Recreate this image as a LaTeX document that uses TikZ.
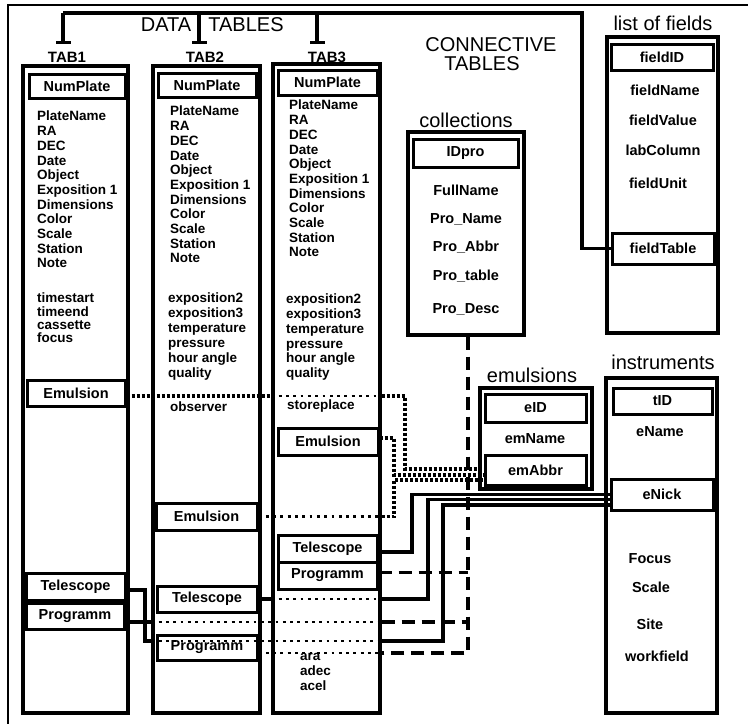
\documentclass[tikz,border=0pt]{standalone}
\usepackage{fontspec}
\setmainfont{Liberation Sans}
\usetikzlibrary{arrows.meta}

\tikzstyle{frm}=[line width=2.5pt]
\tikzstyle{tbl}=[draw, line width=3.2pt, inner sep=0pt]
\tikzstyle{keyb}=[draw, line width=3pt, inner sep=0pt, minimum width=99pt, minimum height=26pt, font=\bfseries\fontsize{14.5}{14.5}\selectfont]
\tikzstyle{tlab}=[inner sep=0pt, font=\bfseries\fontsize{15}{15}\selectfont]
\tikzstyle{hdr}=[inner sep=0pt, font=\fontsize{20}{20}\selectfont]
\tikzstyle{fld}=[inner sep=0pt, anchor=north west, align=left, font=\bfseries\fontsize{13.5}{14.7}\selectfont]
\tikzstyle{cfld}=[inner sep=0pt, font=\bfseries\fontsize{14.5}{14.5}\selectfont]
\tikzstyle{link}=[line width=3.2pt]
\tikzstyle{proline}=[line width=3.2pt, dash pattern=on 13pt off 7pt]
\tikzstyle{emline}=[line width=3.5pt, dash pattern=on 3pt off 2pt]
\tikzstyle{thru}=[line width=2.8pt, dash pattern=on 2.8pt off 4.5pt]

\begin{document}
\begin{tikzpicture}[x=1pt,y=-1pt]
        \useasboundingbox (0,0) rectangle (748,724);
        \coordinate (fTL) at (8,5);
        \draw[frm] (748,5) -- (fTL) -- (8,724);

        % data tables
        \draw (166,25) node[hdr](dat1){DATA};
        \draw (246,25) node[hdr](dat2){TABLES};
        \draw (67,57) node[tlab](lab1){TAB1};
        \draw (205,57) node[tlab](lab2){TAB2};
        \draw (327,57) node[tlab](lab3){TAB3};

        \draw (75.5,389.5) node[tbl, minimum width=105pt, minimum height=647pt](tab1){};
        \draw (206.5,389.5) node[tbl, minimum width=107pt, minimum height=647pt](tab2){};
        \draw (326.5,388.5) node[tbl, minimum width=107pt, minimum height=649pt](tab3){};

        \draw (77,86) node[keyb, minimum width=96pt, minimum height=24pt](num1){NumPlate};
        \draw (207,85) node[keyb, minimum width=98pt, minimum height=24pt](num2){NumPlate};
        \draw (327.5,82.5) node[keyb, minimum height=25pt](num3){NumPlate};

        \draw (37,111) node[fld](f1a){PlateName\\RA\\DEC\\Date\\Object\\Exposition 1\\Dimensions\\Color\\Scale\\Station\\Note};
        \draw (37,293) node[fld, font=\bfseries\fontsize{13.5}{13.3}\selectfont](f1b){timestart\\timeend\\cassette\\focus};
        \draw (170,106) node[fld](f2a){PlateName\\RA\\DEC\\Date\\Object\\Exposition 1\\Dimensions\\Color\\Scale\\Station\\Note};
        \draw (168,293) node[fld, font=\bfseries\fontsize{13.5}{15}\selectfont](f2b){exposition2\\exposition3\\temperature\\pressure\\hour angle\\quality};
        \draw (170,402) node[fld](f2c){observer};
        \draw (289,100) node[fld](f3a){PlateName\\RA\\DEC\\Date\\Object\\Exposition 1\\Dimensions\\Color\\Scale\\Station\\Note};
        \draw (286,294) node[fld](f3b){exposition2\\exposition3\\temperature\\pressure\\hour angle\\quality};
        \draw (287,400) node[fld](f3c){storeplace};
        \draw (300,653) node[fld, font=\bfseries\fontsize{13.5}{15}\selectfont](f3d){ara\\adec\\acel};

        \draw (76,393) node[keyb, minimum width=98pt](emu1){Emulsion};
        \draw (206.5,516.5) node[keyb, minimum width=101pt, minimum height=27pt](emu2){Emulsion};
        \draw (328,441.5) node[keyb, minimum width=100pt, minimum height=27pt](emu3){Emulsion};
        \draw (75.5,586.5) node[keyb, minimum height=27pt](tel1){Telescope};
        \draw (75,616) node[keyb, minimum width=98pt](prog1){Programm};
        \draw (207,599) node[keyb, minimum width=100pt](tel2){Telescope};
        \draw (207,647.5) node[keyb, minimum width=100pt, minimum height=25pt](prog2){Programm};
        \draw (327.5,548.5) node[keyb, minimum height=27pt](tel3){Telescope};
        \draw (327.5,575.5) node[keyb, minimum height=27pt](prog3){Programm};

        % connective tables
        \draw (491,45) node[hdr](conn1){CONNECTIVE};
        \draw (482,64) node[hdr](conn2){TABLES};

        \draw (466,120) node[hdr](colllab){collections};
        \draw (466,233.5) node[tbl, minimum width=116pt, minimum height=203pt](coll){};
        \draw (465.5,153) node[keyb, minimum width=105pt, minimum height=28pt](idpro){IDpro};
        \draw (466,190) node[cfld](fullname){FullName};
        \draw (466,219) node[cfld](proname){Pro\_Name};
        \draw (466,247) node[cfld](proabbr){Pro\_Abbr};
        \draw (466,276) node[cfld](protable){Pro\_table};
        \draw (466,309) node[cfld](prodesc){Pro\_Desc};

        \draw (663,23) node[hdr](lflab){list of fields};
        \draw (662.5,185) node[tbl, minimum width=111pt, minimum height=296pt](lf){};
        \draw (662,57) node[keyb, minimum width=102pt, minimum height=26pt](fid){fieldID};
        \draw (665,90) node[cfld](fname){fieldName};
        \draw (663,120) node[cfld](fvalue){fieldValue};
        \draw (663,150) node[cfld](fcol){labColumn};
        \draw (658,183) node[cfld](funit){fieldUnit};
        \draw (663,248.5) node[keyb, minimum width=102pt, minimum height=31pt](ftab){fieldTable};

        \draw (532,375) node[hdr](emlab){emulsions};
        \draw (536,438.5) node[tbl, minimum width=112pt, minimum height=101pt](emu){};
        \draw (535.5,408) node[keyb, minimum width=101pt, minimum height=28pt](eid){eID};
        \draw (535,439) node[cfld](emname){emName};
        \draw (535.5,470) node[keyb, minimum width=101pt, minimum height=30pt](emabbr){emAbbr};

        \draw (663,362) node[hdr](inlab){instruments};
        \draw (661.5,545.5) node[tbl, minimum width=111pt, minimum height=335pt](inst){};
        \draw (662.5,401) node[keyb, minimum width=99pt, minimum height=26pt](tid){tID};
        \draw (660,432) node[cfld](ename){eName};
        \draw (662,494.5) node[keyb, minimum width=102pt, minimum height=31pt](enick){eNick};
        \draw (650,559) node[cfld](ifocus){Focus};
        \draw (651,587) node[cfld](iscale){Scale};
        \draw (650,624) node[cfld](isite){Site};
        \draw (657,656) node[cfld](iwork){workfield};

        % bracket over the data tables
        \coordinate (brL) at (63,13);
        \coordinate (brR) at (582,13);
        \coordinate (d1) at (63,44);
        \coordinate (d2) at (199,44);
        \coordinate (d3) at (317,44);
        \draw[link] (ftab.west) -| (brR) -- (brL);
        \draw[link,-{Bar[width=15pt]}] (brL) -- (d1);
        \draw[link,-{Bar[width=15pt]}] (d2 |- brL) -- (d2);
        \draw[link,-{Bar[width=15pt]}] (d3 |- brL) -- (d3);

        % collections
        \coordinate (bus) at (468,653);
        \draw[proline] ([xshift=2pt]coll.south) -- (bus) -- (bus -| tab3.east);
        \draw[thru] ([yshift=-5.5pt]prog2.east) -- (bus -| tab3.east);
        \draw[proline] ([yshift=3pt]prog3.east) -- ([yshift=3pt]prog3.east -| bus);
        \draw[link] ([yshift=-6pt]prog1.east) -- ([yshift=-6pt]prog1.east -| tab2.west);
        \draw[thru] ([yshift=-6pt]prog1.east -| tab2.west) -- ([yshift=-6pt]prog1.east -| tab3.east);
        \draw[proline] ([yshift=-6pt]prog1.east -| tab3.east) -- ([yshift=-6pt]prog1.east -| bus);

        % instruments
        \coordinate (c1) at (412,494.5);
        \coordinate (c2) at (428,499.5);
        \coordinate (c3) at (443,505);
        \coordinate (r1) at (145,641);
        \draw[link] ([yshift=-3.5pt]tel3.east) -| (c1) -- (enick.west);
        \draw[link] (tel2.east) -- (tel2.east -| tab3.west);
        \draw[thru] (tel2.east -| tab3.west) -- (tel2.east -| tab3.east);
        \draw[link] (tel2.east -| tab3.east) -| (c2) -- (c2 -| enick.west);
        \draw[link] ([yshift=-3.5pt]tel1.east) -| (r1) -- (r1 -| tab2.west);
        \draw[thru] (r1 -| tab2.west) -- (r1 -| tab3.east);
        \draw[link] (r1 -| tab3.east) -| (c3) -- (c3 -| enick.west);

        % emulsions
        \coordinate (m1) at (405,469);
        \coordinate (m2) at (394,480);
        \coordinate (m3) at (394,475);
        \draw[emline] ([yshift=-3pt]emu1.east) -- ([yshift=-3pt]emu1.east -| tab3.west);
        \draw[thru] ([yshift=-3pt]emu1.east -| tab3.west) -- ([yshift=-3pt]emu1.east -| tab3.east);
        \draw[emline] ([yshift=-3pt]emu1.east -| tab3.east) -| (m1) -- (m1 -| emabbr.west);
        \draw[emline] ([yshift=3.5pt]emu3.east) -| (m3) -- (m3 -| emabbr.west);
        \draw[thru] (emu2.east) -- (emu2.east -| tab3.east);
        \draw[emline] (emu2.east -| tab3.east) -| (m2) -- (m2 -| emabbr.west);
\end{tikzpicture}
\end{document}
